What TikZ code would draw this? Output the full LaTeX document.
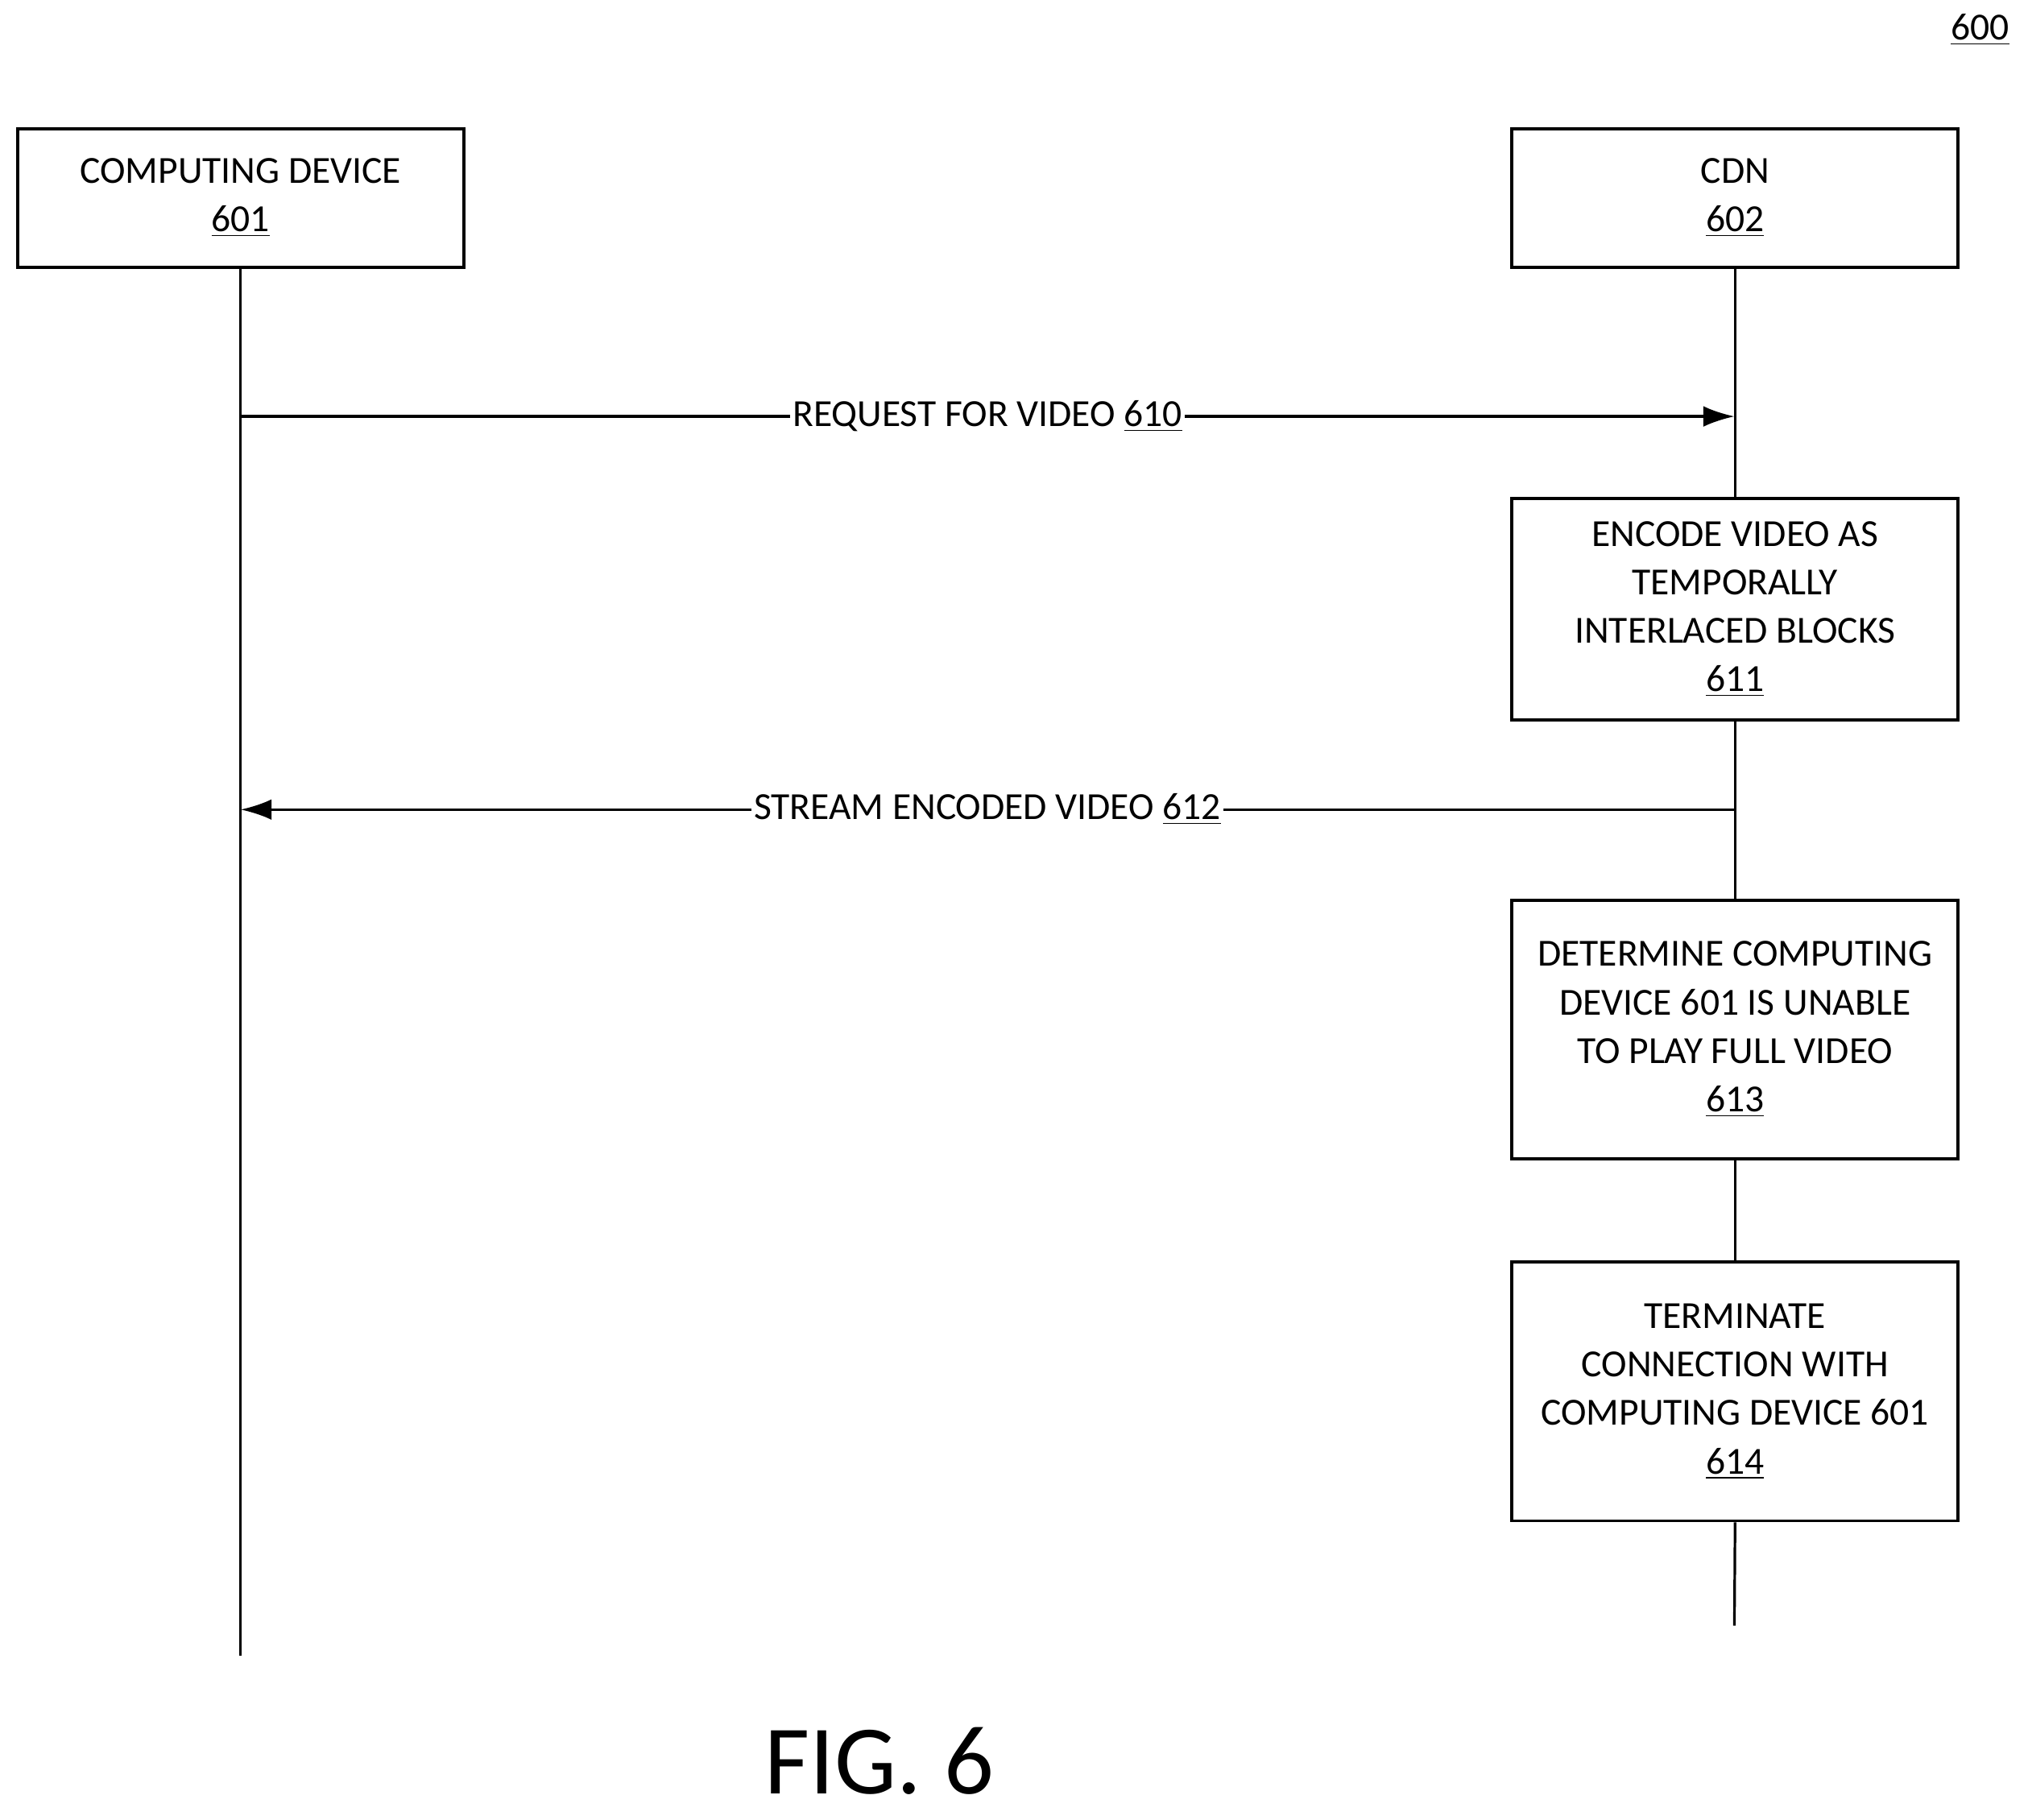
\documentclass[tikz,border=0pt]{standalone}
\usepackage{fontspec}
\setmainfont{Carlito}
\usetikzlibrary{arrows.meta}
\begin{document}
\begin{tikzpicture}[x=0.5pt,y=-0.5pt,
  box/.style={draw,line width=1.2pt,minimum width=172.5pt,align=center,font=\fontsize{14.8}{18.75}\selectfont,inner sep=0pt},
  lbl/.style={fill=white,inner sep=1pt,font=\fontsize{14.8}{18.75}\selectfont},
  line/.style={line width=1pt},
  arr/.style={line width=1pt,-{Latex[length=12pt,width=8pt]}}]
\useasboundingbox (0,0) rectangle (1568,1407);
\node[box,minimum height=53.5pt] (cd) at (186,153) {COMPUTING DEVICE\\\underline{601}};
\node[box,minimum height=53.5pt] (cdn) at (1341.5,153) {CDN\\\underline{602}};
\node[box,minimum height=85.5pt] (b611) at (1341.5,471) {ENCODE VIDEO AS\\TEMPORALLY\\INTERLACED BLOCKS\\\underline{611}};
\node[box,minimum height=100pt] (b613) at (1341.5,796) {DETERMINE COMPUTING\\DEVICE 601 IS UNABLE\\TO PLAY FULL VIDEO\\\underline{613}};
\node[box,minimum height=100pt] (b614) at (1341.5,1076) {TERMINATE\\CONNECTION WITH\\COMPUTING DEVICE 601\\\underline{614}};
\coordinate (cdend) at (186,1280);
\coordinate (cdnend) at (1341,1257);
\coordinate (a1s) at (186,322); \coordinate (a1e) at (1341,322);
\coordinate (a2s) at (1341,626); \coordinate (a2e) at (186,626);
\draw[line] (cd.south) -- (cdend);
\draw[line] (cdn.south) -- (b611.north);
\draw[line] (b611.south) -- (b613.north);
\draw[line] (b613.south) -- (b614.north);
\draw[line] (b614.south) -- (cdnend);
\draw[arr] (a1s) -- node[lbl,pos=0.5] (l610) {REQUEST FOR VIDEO \underline{610}} (a1e);
\draw[arr] (a2s) -- node[lbl,pos=0.5] (l612) {STREAM ENCODED VIDEO \underline{612}} (a2e);
\node[font=\fontsize{14.8}{16}\selectfont] (n600) at (1531,23) {\underline{600}};
\node[font=\fontsize{38}{44}\selectfont] (fig) at (680,1362) {FIG. 6};
\end{tikzpicture}
\end{document}
